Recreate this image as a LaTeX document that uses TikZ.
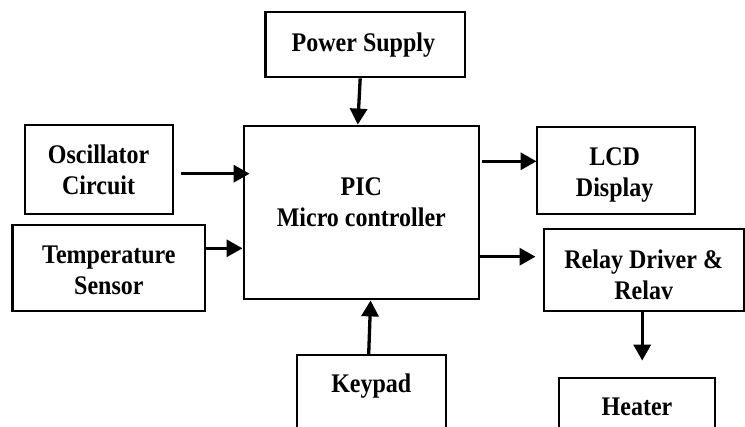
\documentclass[tikz,border=0pt]{standalone}
\usepackage{fontspec}
\setmainfont{Liberation Serif}
\usepackage{graphicx}
\usetikzlibrary{arrows.meta,calc}
\newcommand\boxtxt[1]{\scalebox{1}[1.12]{\begin{tabular}{@{}c@{}}#1\end{tabular}}}
\begin{document}
\begin{tikzpicture}[x=1pt,y=-1pt,
  blk/.style={draw=black, line width=2.2pt, rectangle, inner sep=0pt},
  lbl/.style={inner sep=0pt, font=\fontsize{24}{28}\selectfont\bfseries},
  arr/.style={line width=3.3pt, -{Triangle[length=16pt,width=17pt]}}]
\useasboundingbox (0,0) rectangle (745,427);
\fill[white] (0,0) rectangle (745,427);
\clip (0,0) rectangle (745,427);
% boxes
\node[blk, minimum width=199.5pt, minimum height=65.6pt] (ps) at (365.2,44.5) {};
\node[blk, minimum width=147.5pt, minimum height=88.7pt] (osc) at (99,169.3) {};
\node[blk, minimum width=192.6pt, minimum height=85.7pt] (temp) at (108.7,268.2) {};
\node[blk, minimum width=235.4pt, minimum height=173.6pt] (pic) at (361.3,212.5) {};
\node[blk, minimum width=158pt, minimum height=86.7pt] (lcd) at (615.6,170.3) {};
\node[blk, minimum width=199.8pt, minimum height=81.4pt] (relay) at (643.7,270) {};
\node[blk, minimum width=156pt, minimum height=82.3pt] (heater) at (637,418.85) {};
\node[blk, minimum width=148.5pt, minimum height=105pt] (keypad) at (371.5,407.5) {};
% labels
\node[lbl] (tps) at (363.4,45) {\boxtxt{Power Supply}};
\node[lbl] (tosc) at (98.6,172.8) {\boxtxt{Oscillator\\Circuit}};
\node[lbl] (ttemp) at (108.9,272.5) {\boxtxt{Temperature\\Sensor}};
\node[lbl] (tpic) at (361.3,205) {\boxtxt{PIC\\Micro controller}};
\node[lbl] (tlcd) at (614.6,174.7) {\boxtxt{LCD\\Display}};
\node[lbl] (trelay) at (643.7,277.5) {\boxtxt{Relay Driver \&\\Relav}};
\node[lbl] (theater) at (637,409.5) {\boxtxt{Heater}};
\node[lbl] (tkey) at (371.3,386.5) {\boxtxt{Keypad}};
% connectors
\draw[arr] ($(ps.south)+(-5,0)$) -- ($(pic.north)+(-3.5,0)$);
\draw[arr] ($(osc.east)+(6.7,4.4)$) -- ($(pic.west)+(7.1,-38.8)$);
\draw[arr] ($(temp.east)+(0,-19.9)$) -- ($(pic.west)+(0,35.8)$);
\draw[arr] ($(pic.east)+(2,-51.2)$) -- ($(lcd.west)+(1,-9)$);
\draw[arr] ($(pic.east)+(-2,44.2)$) -- ($(relay.west)+(-7.2,-13.3)$);
\draw[arr] ($(keypad.north)+(-2.8,0)$) -- ($(pic.south)+(9.3,0)$);
\draw[arr] ($(relay.south)+(-1.5,0)$) -- ($(heater.north)+(5.2,-16)$);
\end{tikzpicture}
\end{document}
